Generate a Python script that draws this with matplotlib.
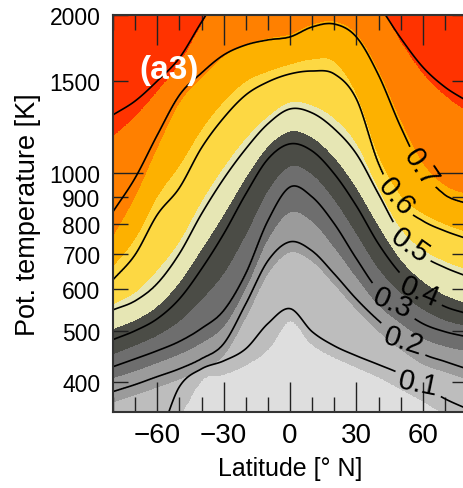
import numpy as np
import matplotlib
matplotlib.use("Agg")
import matplotlib.pyplot as plt
from matplotlib.ticker import FixedLocator, FuncFormatter, NullFormatter

plt.rcParams['font.family'] = ['Liberation Sans', 'DejaVu Sans']

# Latitude columns [deg N]
lats = [-80, -70, -60, -50, -40, -30, -20, -10, 0, 10, 20, 30, 40, 50, 60, 70, 80]

# Potential temperature [K] of each labelled contour line, read per latitude
theta_01 = [292, 298, 311, 391, 423, 438, 462, 516, 551, 498, 468, 448, 431, 414, 393, 371, 355]
theta_02 = [383, 395, 409, 423, 442, 472, 563, 680, 739, 710, 642, 575, 523, 483, 452, 437, 423]
theta_03 = [427, 442, 458, 477, 505, 546, 642, 810, 940, 900, 800, 686, 596, 551, 516, 498, 487]
theta_04 = [481, 500, 527, 575, 656, 765, 912, 1063, 1136, 1101, 996, 865, 732, 642, 588, 556, 539]
theta_05 = [548, 570, 615, 701, 835, 974, 1111, 1240, 1324, 1301, 1213, 1087, 912, 765, 695, 660, 635]
theta_06 = [625, 698, 832, 936, 1116, 1273, 1408, 1491, 1544, 1564, 1544, 1383, 1040, 873, 810, 775, 749]
theta_07 = [843, 978, 1181, 1408, 1551, 1678, 1753, 1792, 1816, 1897, 1922, 1816, 1537, 1224, 1009, 908, 873]
theta_08 = [1290, 1371, 1497, 1656, 1939, 2241, 2447, 2556, 2613, 2671, 2613, 2342, 2090, 1808, 1592, 1458, 1371]

# Potential temperature [K] of the boundaries between the shaded bands (bottom to top)
bound_1 = [273, 279, 292, 343, 403, 414, 431, 462, 523, 472, 446, 427, 409, 388, 368, 348, 333]
bound_2 = [366, 378, 391, 405, 423, 450, 532, 645, 707, 680, 615, 551, 500, 462, 433, 418, 405]
bound_3 = [407, 420, 435, 452, 475, 511, 604, 749, 843, 810, 723, 634, 561, 518, 485, 468, 458]
bound_4 = [452, 470, 491, 523, 575, 645, 765, 928, 1031, 996, 892, 769, 659, 593, 551, 525, 511]
bound_5 = [505, 525, 558, 620, 717, 835, 983, 1126, 1202, 1171, 1073, 940, 796, 686, 623, 586, 565]
bound_6 = [563, 593, 654, 742, 884, 1027, 1166, 1284, 1365, 1347, 1273, 1141, 936, 786, 716, 680, 655]
bound_7 = [665, 752, 904, 1036, 1213, 1371, 1497, 1564, 1613, 1649, 1634, 1420, 1082, 908, 839, 800, 772]
bound_8 = [759, 904, 1121, 1365, 1524, 1671, 1761, 1808, 1840, 1922, 1948, 1848, 1578, 1267, 1049, 949, 912]
bound_9 = [1176, 1284, 1433, 1620, 1922, 2241, 2447, 2556, 2613, 2671, 2556, 2193, 2090, 1784, 1551, 1408, 1313]

line_levels = [0.1, 0.2, 0.3, 0.4, 0.5, 0.6, 0.7, 0.8]
band_colors = ['#dedede', '#bdbdbd', '#9b9b9b', '#6e6e6e', '#4b4c46',
               '#e6e6b4', '#fdd843', '#fdb100', '#ff8000', '#ff3300']

y_ticks = [400, 500, 600, 700, 800, 900, 1000, 1500, 2000]
x_ticks = [-60, -30, 0, 30, 60]


def hermite(xs, ys, xf):
    xs = np.asarray(xs, float); ys = np.asarray(ys, float)
    m = np.gradient(ys, xs)
    out = np.empty_like(xf)
    for j, x in enumerate(xf):
        i = min(max(np.searchsorted(xs, x) - 1, 0), len(xs) - 2)
        h = xs[i + 1] - xs[i]
        t = (x - xs[i]) / h
        h00 = 2*t**3 - 3*t**2 + 1; h10 = t**3 - 2*t**2 + t
        h01 = -2*t**3 + 3*t**2; h11 = t**3 - t**2
        out[j] = h00*ys[i] + h10*h*m[i] + h01*ys[i+1] + h11*h*m[i+1]
    return out


lat_f = np.linspace(-80, 80, 321)
lt_f = np.linspace(np.log10(300), np.log10(2200), 600)


def build_field(theta_lists, values, extrapolate):
    curves = np.array([hermite(lats, np.log10(t), lat_f) for t in theta_lists])
    curves = np.sort(curves, axis=0)
    v = np.asarray(values, float)
    Z = np.empty((lt_f.size, lat_f.size))
    for j in range(lat_f.size):
        c = curves[:, j]
        if extrapolate:
            lo_s = (v[1] - v[0]) / (c[1] - c[0])
            hi_s = (v[-1] - v[-2]) / (c[-1] - c[-2])
            lo_v, hi_v = v[0] - 5 * lo_s, v[-1] + 5 * hi_s
        else:
            lo_v, hi_v = v[0] - 1, v[-1] + 1
        xp = np.concatenate([[c[0] - 5], c, [c[-1] + 5]])
        fp = np.concatenate([[lo_v], v, [hi_v]])
        Z[:, j] = np.interp(lt_f, xp, fp)
    return Z


Z_line = build_field([theta_01, theta_02, theta_03, theta_04, theta_05,
                      theta_06, theta_07, theta_08], line_levels, True)
Z_fill = build_field([bound_1, bound_2, bound_3, bound_4, bound_5,
                      bound_6, bound_7, bound_8, bound_9], list(range(1, 10)), False)

LAT, TH = np.meshgrid(lat_f, 10 ** lt_f)

fig = plt.figure(figsize=(4.63, 4.89), dpi=100)
ax = fig.add_axes([113 / 463, 76 / 489, (467 - 113) / 463, (413 - 16) / 489])
ax.contourf(LAT, TH, Z_fill, levels=[-1] + list(range(1, 10)) + [11], colors=band_colors)
cs = ax.contour(LAT, TH, Z_line, levels=line_levels, colors='black', linewidths=1.2)

label_pos = [(58, 400), (51, 476), (46, 551), (59, 601), (54, 726), (48, 904), (60, 1031)]
ax.clabel(cs, levels=line_levels[:7], fmt='%.1f', fontsize=21, inline=True,
          inline_spacing=3, manual=label_pos)

ax.set_yscale('log')
ax.set_xlim(-80, 80)
ax.set_ylim(350, 2000)
ax.xaxis.set_major_locator(FixedLocator(x_ticks))
ax.xaxis.set_minor_locator(FixedLocator(list(range(-80, 81, 10))))
ax.xaxis.set_minor_formatter(NullFormatter())
ax.yaxis.set_major_locator(FixedLocator([1000]))
ax.yaxis.set_minor_locator(FixedLocator([t for t in y_ticks if t != 1000]))
fmt = FuncFormatter(lambda v, p: f'{v:.0f}')
ax.yaxis.set_major_formatter(fmt)
ax.yaxis.set_minor_formatter(fmt)
ax.xaxis.set_major_formatter(FuncFormatter(lambda v, p: f'{v:.0f}'.replace('-', '\u2212')))

ax.tick_params(which='major', direction='in', length=21.6, width=1.0, top=True, right=True,
               color='#222222')
ax.tick_params(which='minor', direction='in', length=10.8, width=1.0, top=True, right=True,
               color='#222222')
ax.tick_params(axis='y', which='both', pad=9, labelsize=16.5)
ax.tick_params(axis='x', which='both', pad=7, labelsize=20)
for s in ax.spines.values():
    s.set_linewidth(1.5)
    s.set_color('#333333')

ax.set_xlabel('Latitude [° N]', fontsize=18, labelpad=6)
ax.set_ylabel('Pot. temperature [K]', fontsize=19.5, labelpad=6)
ax.text(0.158, 0.862, '(a3)', transform=ax.transAxes, color='white', fontsize=24,
        fontweight='bold', ha='center', va='center')

fig.savefig('out.png', dpi=100)
